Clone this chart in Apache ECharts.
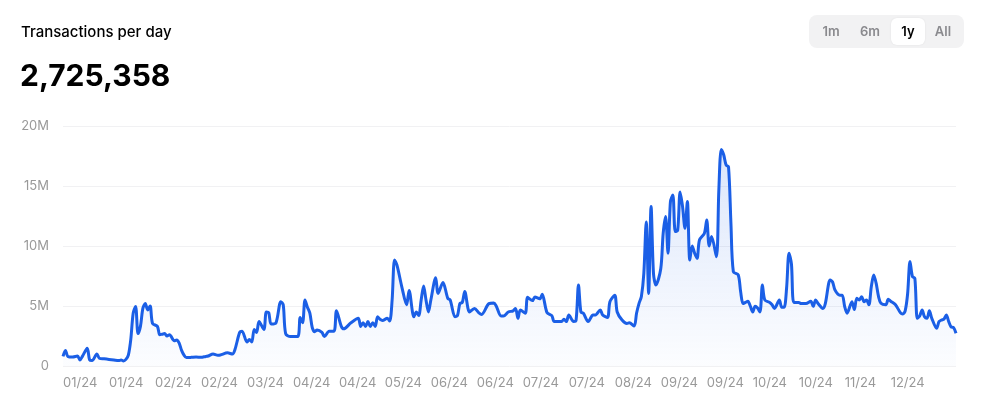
<!DOCTYPE html>
<html>
<head>
<meta charset="utf-8">
<title>Transactions per day</title>
<script src="https://cdn.jsdelivr.net/npm/echarts@6/dist/echarts.min.js"></script>
<style>
    html, body { margin: 0; padding: 0; background: #fff; }
    #txChart { width: 985px; height: 413px; }
</style>
</head>
<body>
<div id="txChart"></div>
<script>
// day offsets from 2024-01-01
var days = [
    0, 1, 2, 4, 6, 7, 8, 10, 11, 12,
    14, 15, 17, 19, 21, 23, 24, 25, 26, 27,
    28, 29, 30, 31, 32, 33, 34, 35, 36, 37,
    39, 40, 41, 42, 43, 44, 46, 47, 48, 49,
    50, 51, 53, 55, 57, 59, 60, 62, 64, 65,
    68, 70, 71, 73, 74, 76, 77, 78, 79, 80,
    81, 83, 84, 85, 86, 88, 90, 91, 92, 94,
    97, 98, 99, 100, 101, 102, 103, 104, 105, 107,
    108, 110, 112, 113, 115, 116, 119, 122, 123, 124,
    125, 126, 127, 128, 129, 130, 131, 132, 134, 135,
    136, 137, 138, 140, 142, 143, 145, 146, 147, 148,
    149, 150, 151, 152, 154, 155, 157, 159, 160, 162,
    163, 164, 165, 166, 168, 170, 172, 173, 176, 178,
    179, 181, 182, 184, 186, 187, 188, 189, 191, 192,
    194, 195, 197, 198, 200, 202, 203, 206, 207, 208,
    209, 211, 212, 213, 214, 215, 217, 219, 220, 222,
    223, 225, 226, 228, 229, 231, 233, 234, 236, 237,
    238, 239, 240, 241, 242, 243, 244, 245, 247, 248,
    249, 250, 251, 252, 253, 254, 255, 256, 257, 258,
    259, 260, 261, 262, 263, 265, 266, 267, 268, 270,
    271, 272, 273, 274, 275, 276, 277, 279, 280, 281,
    282, 283, 284, 285, 286, 287, 288, 289, 290, 292,
    293, 294, 296, 297, 298, 299, 300, 301, 302, 304,
    305, 307, 309, 310, 311, 312, 314, 315, 317, 318,
    319, 321, 322, 323, 324, 326, 327, 328, 329, 330,
    331, 332, 333, 334, 335, 336, 337, 338, 340, 341,
    342, 344, 346, 347, 348, 349, 350, 351, 352, 353,
    354, 355, 356, 357, 358, 359, 361, 362, 363, 364,
    365, 366, 367, 368, 369
];
// transactions per day, millions
var txMillions = [
    0.8, 1.3, 0.8, 0.75, 0.83, 0.5, 0.8, 1.47, 0.5, 0.45,
    1.0, 0.65, 0.6, 0.55, 0.5, 0.45, 0.5, 0.42, 0.55, 0.9,
    2.2, 4.4, 4.95, 2.7, 3.3, 4.8, 5.2, 4.67, 5.0, 3.55,
    3.3, 2.6, 2.65, 2.7, 2.5, 2.6, 2.1, 2.17, 1.9, 1.3,
    0.9, 0.7, 0.72, 0.75, 0.72, 0.8, 0.83, 1.0, 0.9, 0.92,
    1.1, 1.0, 1.33, 2.8, 2.9, 2.0, 2.2, 2.0, 3.05, 2.8,
    3.7, 3.05, 4.5, 4.45, 3.5, 3.6, 5.36, 5.1, 2.7, 2.45,
    2.45, 4.05, 3.6, 5.5, 4.9, 4.4, 3.2, 2.86, 3.0, 2.8,
    2.45, 2.9, 2.9, 4.6, 3.3, 3.1, 3.6, 3.97, 3.3, 3.6,
    3.3, 3.7, 3.3, 3.6, 3.3, 4.1, 3.9, 3.8, 3.97, 3.75,
    5.5, 8.83, 8.4, 6.6, 5.1, 6.3, 4.1, 4.5, 4.2, 5.5,
    6.67, 5.5, 4.5, 5.5, 7.36, 6.05, 6.95, 5.64, 5.5, 4.1,
    4.2, 5.2, 5.3, 6.2, 4.5, 4.8, 4.4, 4.3, 5.2, 5.25,
    5.0, 4.17, 4.17, 4.5, 4.6, 4.8, 3.97, 4.67, 4.4, 5.72,
    5.45, 5.75, 5.6, 5.97, 4.45, 4.2, 3.7, 3.7, 3.9, 3.7,
    4.25, 3.7, 3.8, 6.75, 4.5, 4.4, 3.7, 4.25, 4.25, 4.67,
    4.25, 4.05, 5.36, 5.9, 4.5, 3.83, 3.55, 3.6, 3.33, 4.4,
    5.2, 5.8, 7.7, 12.0, 6.05, 13.3, 7.7, 6.75, 8.1, 11.05,
    12.45, 9.4, 13.7, 14.25, 11.2, 11.3, 14.5, 13.3, 11.47, 13.7,
    8.83, 10.0, 9.4, 8.97, 10.5, 11.05, 12.17, 10.0, 10.8, 9.1,
    14.67, 18.05, 17.6, 16.75, 16.6, 11.9, 7.86, 7.6, 6.2, 5.2,
    5.3, 5.4, 5.0, 4.5, 4.97, 4.83, 4.5, 6.75, 5.5, 5.3,
    5.1, 4.8, 5.5, 4.9, 4.9, 6.5, 9.4, 8.5, 5.3, 5.3,
    5.2, 5.2, 5.4, 4.97, 5.5, 5.2, 4.8, 5.2, 7.17, 7.0,
    6.33, 5.9, 5.9, 4.95, 4.4, 5.36, 4.7, 5.64, 5.5, 5.78,
    5.36, 5.5, 5.1, 6.6, 7.58, 6.9, 5.78, 5.22, 5.1, 5.56,
    5.4, 5.1, 4.45, 4.33, 4.6, 6.0, 8.7, 7.45, 7.3, 3.97,
    4.17, 4.67, 4.1, 3.97, 4.6, 3.97, 3.14, 3.7, 3.83, 3.9,
    4.25, 3.7, 3.25, 3.2, 2.73
];
var yTicks = [0, 5, 10, 15, 20];
var rangeButtons = ['1m', '6m', '1y', 'All'];
var activeRange = '1y';
var latestValue = 2725358;

var startTime = Date.UTC(2024, 0, 1);
function dayLabel(d) {
    var dt = new Date(startTime + d * 86400000);
    var mm = dt.getUTCMonth() + 1;
    var yy = dt.getUTCFullYear() % 100;
    return (mm < 10 ? '0' + mm : '' + mm) + '/' + yy;
}

var seriesData = [];
for (var i = 0; i < days.length; i++) {
    seriesData.push([days[i], txMillions[i]]);
}

var font = 'Inter, "Noto Sans", sans-serif';

// range buttons in the top right corner
var btnCenters = [831, 870, 908, 943];
var graphics = [{
    type: 'rect',
    left: 809, top: 15,
    shape: { width: 155, height: 33, r: 8 },
    style: { fill: '#f2f2f3' }
}];
for (var b = 0; b < rangeButtons.length; b++) {
    var on = rangeButtons[b] === activeRange;
    if (on) {
        graphics.push({
            type: 'rect',
            left: btnCenters[b] - 17, top: 18,
            shape: { width: 34, height: 27, r: 6 },
            style: { fill: '#fff', shadowBlur: 2, shadowColor: 'rgba(0,0,0,0.08)' }
        });
    }
    graphics.push({
        type: 'text',
        x: btnCenters[b], y: 32,
        style: {
            text: rangeButtons[b],
            fill: on ? '#000' : '#8a8a8e',
            font: '600 13px ' + font,
            align: 'center',
            verticalAlign: 'middle'
        }
    });
}

var txChart = echarts.init(document.getElementById('txChart'));
var option = {
    animation: false,
    title: [
        {
            text: 'Transactions per day',
            left: 21, top: 25,
            padding: 0,
            textStyle: { fontFamily: font, fontSize: 15, fontWeight: 500, color: '#000' }
        },
        {
            text: latestValue.toLocaleString('en-US'),
            left: 20, top: 62,
            padding: 0,
            textStyle: { fontFamily: font, fontSize: 30, fontWeight: 700, color: '#000' }
        }
    ],
    graphic: graphics,
    grid: { left: 63, right: 29, top: 126, bottom: 47 },
    xAxis: {
        type: 'value',
        min: 0,
        max: 369,
        interval: 19,
        axisLine: { show: false },
        axisTick: { show: false },
        splitLine: { show: false },
        axisLabel: {
            align: 'left',
            margin: 11,
            color: '#999',
            fontFamily: font,
            fontSize: 13,
            showMaxLabel: false,
            formatter: function (v) {
                if (v > 350) return '';
                return dayLabel(v);
            }
        }
    },
    yAxis: {
        type: 'value',
        min: yTicks[0],
        max: yTicks[yTicks.length - 1],
        interval: 5,
        axisLine: { show: false },
        axisTick: { show: false },
        splitLine: { lineStyle: { color: '#f1f1f3', width: 1 } },
        axisLabel: {
            margin: 14,
            color: '#999',
            fontFamily: font,
            fontSize: 13,
            formatter: function (v) { return v === 0 ? '0' : v + 'M'; }
        }
    },
    series: [
        {
            name: 'Transactions',
            type: 'line',
            data: seriesData,
            showSymbol: false,
            smooth: 0.3,
            lineStyle: { color: '#1b5fe6', width: 3 },
            areaStyle: {
                color: new echarts.graphic.LinearGradient(0, 0, 0, 1, [
                    { offset: 0, color: 'rgba(27,95,230,0.22)' },
                    { offset: 1, color: 'rgba(27,95,230,0.02)' }
                ])
            }
        }
    ]
};
txChart.setOption(option);
</script>
</body>
</html>
